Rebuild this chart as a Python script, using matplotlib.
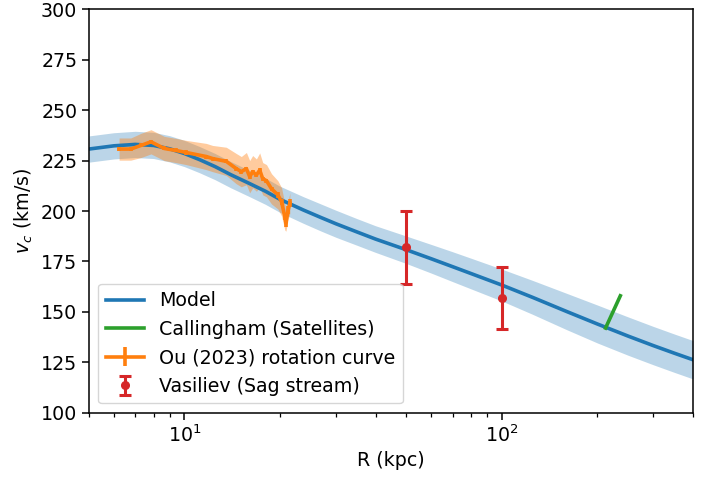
import numpy as np
import matplotlib.pyplot as plt

# Model circular velocity curve
model_r = [5, 6, 7, 8, 9, 10, 11.15, 12.5, 14, 16, 18, 20, 23.7, 27, 30, 35, 40,
           50, 60, 70, 80, 100, 125, 160, 200, 250, 300, 350, 400]
model_v = [230.7, 232.3, 233.0, 232.5, 230.8, 228.5, 225.5, 222.0, 218.0, 213.7,
           209.8, 205.8, 200.5, 196.7, 193.7, 189.6, 186.1, 180.8, 176.3, 172.4,
           169.0, 163.3, 157.2, 150.2, 144.0, 138.0, 133.3, 129.5, 126.3]
model_err = [6.5, 6.5, 6.5, 6.5, 6.5, 6.5, 6.5, 6.5, 6.5, 6.5, 6.5, 6.5, 6.6, 6.7,
             6.7, 6.6, 6.6, 6.8, 7.1, 7.4, 7.6, 7.9, 8.4, 9.0, 9.4, 9.5, 9.5, 9.5,
             9.5]

# Ou (2023) rotation curve
ou_r = [6.23, 6.78, 7.3, 7.85, 8.64, 9.4, 10.13, 11.72, 12.27, 13.55, 14.57, 15.11,
        15.68, 16.06, 16.41, 16.86, 17.27, 17.65, 18.14, 18.81, 19.70, 20.23,
        20.73, 20.88, 21.23, 21.49]
ou_v = [230.7, 230.7, 232.5, 234.3, 231.0, 230.0, 229.0, 227.0, 226.0, 224.6, 221.0,
        219.5, 221.0, 217.0, 219.5, 217.8, 220.3, 216.0, 215.0, 211.0, 208.0, 204.6,
        197.0, 194.0, 200.5, 204.0]
ou_stat = [1.0, 1.0, 1.0, 1.0, 1.0, 1.0, 1.0, 1.0, 1.0, 1.0, 1.0, 1.0, 1.0, 1.0,
           1.0, 1.0, 1.0, 1.0, 1.0, 1.0, 1.5, 1.5, 1.5, 2.0, 2.0, 2.0]
ou_err = [5.5, 5.5, 6.0, 6.0, 6.0, 6.0, 6.0, 6.5, 6.5, 7.0, 7.5, 7.5, 8.0, 8.0, 8.0,
          8.0, 8.5, 8.0, 8.0, 7.5, 7.0, 7.0, 6.5, 4.0, 4.5, 5.0]

# Callingham (Satellites)
cal_r = [212, 236]
cal_v = [142, 158]

# Vasiliev (Sag stream)
vas_r = [50, 100]
vas_v = [182, 157]
vas_err = [18, 15.5]

fs = 13.7
plt.rcParams['axes.linewidth'] = 1.1
plt.rcParams['xtick.major.size'] = 4.8
plt.rcParams['ytick.major.size'] = 4.8
plt.rcParams['xtick.minor.size'] = 2.7
plt.rcParams['xtick.major.width'] = 1.1
plt.rcParams['ytick.major.width'] = 1.1
plt.rcParams['xtick.minor.width'] = 0.9

fig, ax = plt.subplots(figsize=(7.16, 4.84), dpi=100)
fig.subplots_adjust(left=0.124, right=0.968, bottom=0.147, top=0.981)

mv = np.array(model_v)
me = np.array(model_err)
ax.plot(model_r, model_v, color='C0', lw=2.6, label='Model')
ax.fill_between(model_r, mv - me, mv + me, color='C0', alpha=0.3, lw=0)

ax.plot(cal_r, cal_v, color='C2', lw=2.6, label='Callingham (Satellites)')

ov = np.array(ou_v)
oe = np.array(ou_err)
ax.errorbar(ou_r, ou_v, yerr=ou_stat, color='C1', lw=2.6, elinewidth=2.6,
            label='Ou (2023) rotation curve')
ax.fill_between(ou_r, ov - oe, ov + oe, color='C1', alpha=0.4, lw=0)

ax.errorbar(vas_r, vas_v, yerr=vas_err, fmt='o', color='C3', ms=5.5,
            capsize=4, elinewidth=2.2, capthick=2.2, label='Vasiliev (Sag stream)')

ax.set_xscale('log')
ax.set_xlim(5, 400)
ax.set_ylim(100, 300)
ax.set_xlabel('R (kpc)', fontsize=fs)
ax.set_ylabel('$v_c$ (km/s)', fontsize=fs)
ax.tick_params(labelsize=fs)
ax.legend(loc='lower left', fontsize=fs)

plt.savefig('out.png')
